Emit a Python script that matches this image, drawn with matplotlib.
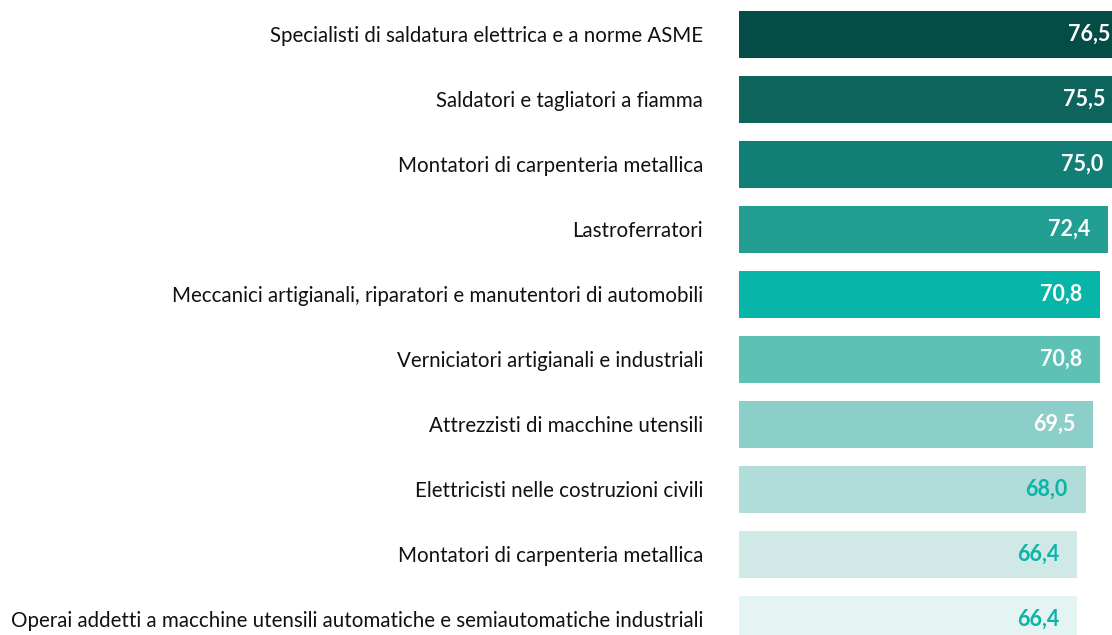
import matplotlib.pyplot as plt

categories = [
    "Specialisti di saldatura elettrica e a norme ASME",
    "Saldatori e tagliatori a fiamma",
    "Montatori di carpenteria metallica",
    "Lastroferratori",
    "Meccanici artigianali, riparatori e manutentori di automobili",
    "Verniciatori artigianali e industriali",
    "Attrezzisti di macchine utensili",
    "Elettricisti nelle costruzioni civili",
    "Montatori di carpenteria metallica",
    "Operai addetti a macchine utensili automatiche e semiautomatiche industriali",
]
values = [76.5, 75.5, 75.0, 72.4, 70.8, 70.8, 69.5, 68.0, 66.4, 66.4]
bar_colors = ["#044d47", "#0c645c", "#127f76", "#239e93", "#07b5a9",
              "#5ec1b6", "#8ccfc9", "#b0dcd9", "#d0e9e6", "#e3f4f3"]
label_colors = ["white"] * 7 + ["#0ab5a8"] * 3

plt.rcParams["font.family"] = ["Lato", "DejaVu Sans"]

fig = plt.figure(figsize=(11.12, 6.35), dpi=100)
ax = fig.add_axes([739 / 1112, 0, 373 / 1112, 1])

pos = list(range(len(values)))
ax.barh(pos, values, height=0.72, color=bar_colors)

# values sit inside the bar end, even where the bar runs off the edge
for y, v, c in zip(pos, values, label_colors):
    ax.annotate(f"{v:.1f}".replace(".", ","), xy=(v, y), xytext=(-18, 0),
                textcoords="offset pixels", ha="right", va="center",
                fontsize=15.5, fontweight="bold", color=c,
                annotation_clip=False)

ax.set_xlim(0, 73.2)
ax.set_ylim(9.24, -0.53)
ax.set_yticks(pos)
ax.set_yticklabels(categories, fontsize=14.8, color="#111111")
ax.tick_params(axis="y", length=0, pad=26)
ax.set_xticks([])
for s in ax.spines.values():
    s.set_visible(False)

plt.savefig("out.png", dpi=100)
plt.close()
